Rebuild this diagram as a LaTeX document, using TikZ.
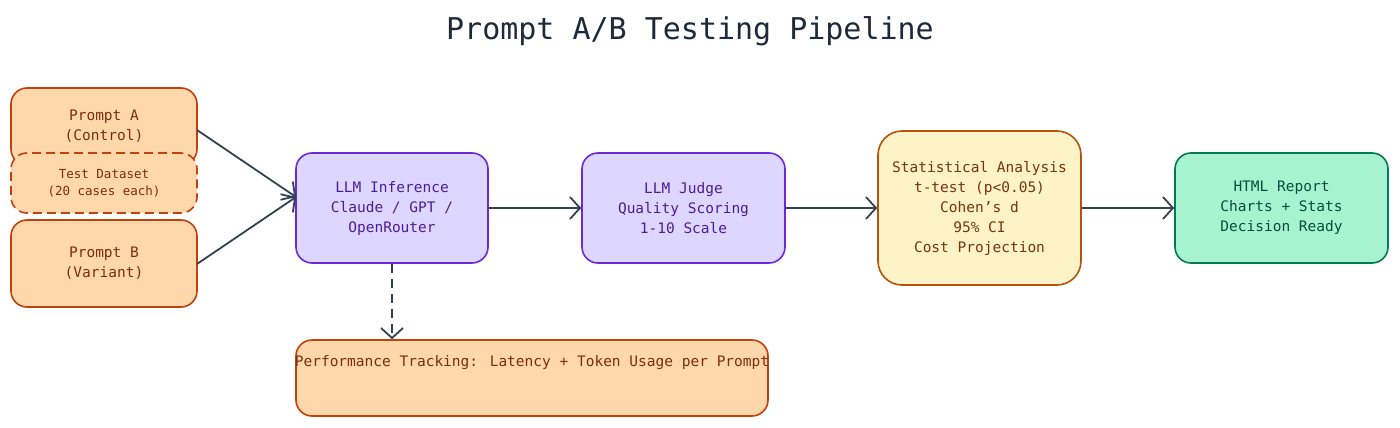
\documentclass[tikz,border=0pt]{standalone}
\usepackage{fontspec}
\setmainfont{DejaVu Sans Mono}
\usetikzlibrary{arrows.meta}
\definecolor{ofill}{HTML}{FED7AA}\definecolor{ostroke}{HTML}{C2410C}\definecolor{otext}{HTML}{7C2D12}
\definecolor{pfill}{HTML}{DDD6FE}\definecolor{pstroke}{HTML}{6D28D9}\definecolor{ptext}{HTML}{4C1D95}
\definecolor{yfill}{HTML}{FEF3C7}\definecolor{ystroke}{HTML}{B45309}\definecolor{ytext}{HTML}{78350F}
\definecolor{gfill}{HTML}{A7F3D0}\definecolor{gstroke}{HTML}{047857}\definecolor{gtext}{HTML}{064E3B}
\definecolor{edge}{HTML}{334155}\definecolor{ttl}{HTML}{1E293B}
\begin{document}
\begin{tikzpicture}[x=1pt,y=-1pt,
 box/.style={draw,line width=1.6pt,rounded corners=16pt,align=center,inner sep=0pt,font=\fontsize{14.5}{20}\selectfont},
 org/.style={box,fill=ofill,draw=ostroke,text=otext},
 pur/.style={box,fill=pfill,draw=pstroke,text=ptext},
 yel/.style={box,fill=yfill,draw=ystroke,text=ytext},
 grn/.style={box,fill=gfill,draw=gstroke,text=gtext},
 arr/.style={draw=edge,line width=1.8pt,-{Straight Barb[length=10pt,width=22pt,line width=1.8pt]}}]
\useasboundingbox (0,0) rectangle (1400,428);
\node[text=ttl,font=\fontsize{30}{36}\selectfont] (title) at (690,31) {Prompt A/B Testing Pipeline};
\node[org,minimum width=186pt,minimum height=77pt] (pa) at (104,126.5) {Prompt A\\(Control)};
\node[org,minimum width=186pt,minimum height=87pt] (pb) at (104,263.5) {Prompt B\\(Variant)};
\node[org,dashed,dash pattern=on 9pt off 5pt,minimum width=186pt,minimum height=60pt,font=\fontsize{12.5}{17}\selectfont] (ds) at (104,183) {Test Dataset\\(20 cases each)};
\node[pur,minimum width=192pt,minimum height=110pt] (inf) at (392,208) {LLM Inference\\Claude / GPT /\\OpenRouter};
\node[pur,minimum width=203pt,minimum height=110pt] (jdg) at (683.5,208) {LLM Judge\\Quality Scoring\\1-10 Scale};
\node[yel,minimum width=203pt,minimum height=154pt,rounded corners=24pt] (st) at (979.5,208) {Statistical Analysis\\t-test (p<0.05)\\Cohen's d\\95\% CI\\Cost Projection};
\node[grn,minimum width=213pt,minimum height=110pt] (html) at (1281.5,208) {HTML Report\\Charts + Stats\\Decision Ready};
\node[org,minimum width=472pt,minimum height=76pt] (perf) at (532,378) {};
\node[text=otext,font=\fontsize{14.5}{20}\selectfont] (perft) at (532,363) {Performance Tracking: Latency + Token Usage per Prompt};
\coordinate (pao) at (197,130);\coordinate (pbo) at (197,264);\coordinate (inin) at (296,197);
\draw[arr] (pao) -- (inin);
\draw[arr] (pbo) -- (inin);
\draw[arr] (inf) -- (jdg);
\draw[arr] (jdg) -- (st);
\draw[arr] (st) -- (html);
\draw[arr,dash pattern=on 9pt off 6pt] (inf.south) -- (perf.north -| inf.south);
\end{tikzpicture}
\end{document}
